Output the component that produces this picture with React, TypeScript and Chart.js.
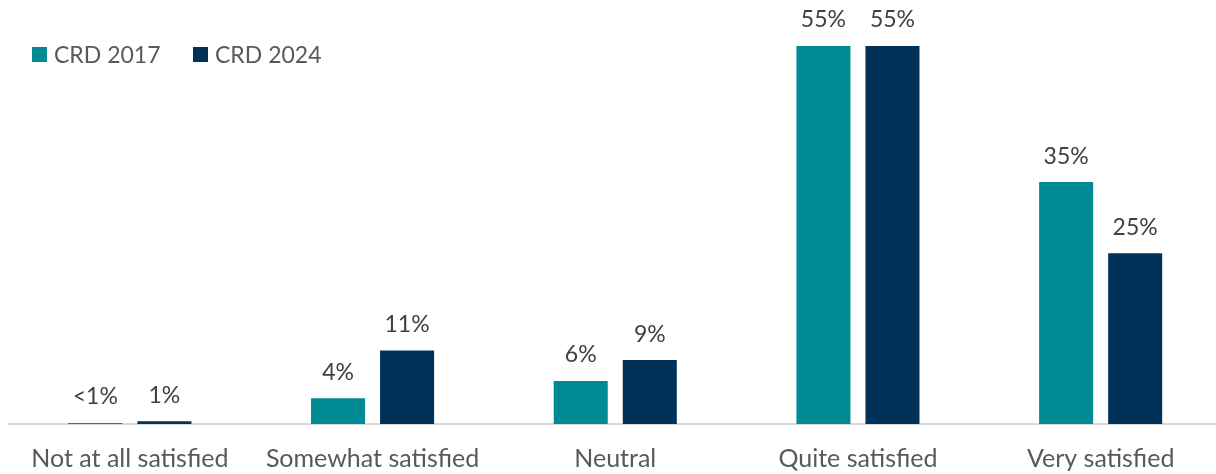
import React, { useEffect, useRef } from "react";
import { Chart, registerables } from "chart.js";

Chart.register(...registerables);

const categories = ["Not at all satisfied", "Somewhat satisfied", "Neutral", "Quite satisfied", "Very satisfied"];
const seriesNames = ["CRD 2017", "CRD 2024"];
const values2017 = [0.15, 3.75, 6.25, 55, 35.2];
const values2024 = [0.4, 10.7, 9.3, 55, 24.85];
const labels2017 = ["<1%", "4%", "6%", "55%", "35%"];
const labels2024 = ["1%", "11%", "9%", "55%", "25%"];
const colors = ["#008B94", "#003259"];

const FONT = "Lato, 'Open Sans', sans-serif";

const dataLabelPlugin = {
  id: "dataLabels",
  afterDatasetsDraw(chart: any) {
    const ctx = chart.ctx;
    const texts = [labels2017, labels2024];
    ctx.save();
    ctx.font = `23px ${FONT}`;
    ctx.fillStyle = "#404040";
    ctx.textAlign = "center";
    ctx.textBaseline = "middle";
    chart.data.datasets.forEach((_ds: any, di: number) => {
      const meta = chart.getDatasetMeta(di);
      meta.data.forEach((bar: any, i: number) => {
        ctx.fillText(texts[di][i], bar.x, bar.y - 26);
      });
    });
    ctx.restore();
  },
};

export default function App() {
  const ref = useRef<HTMLCanvasElement | null>(null);
  useEffect(() => {
    if (!ref.current) return;
    const chart = new Chart(ref.current, {
      type: "bar",
      data: {
        labels: categories,
        datasets: [
          { label: seriesNames[0], data: values2017, backgroundColor: colors[0], categoryPercentage: 0.569, barPercentage: 0.7826 },
          { label: seriesNames[1], data: values2024, backgroundColor: colors[1], categoryPercentage: 0.569, barPercentage: 0.7826 },
        ],
      },
      options: {
        responsive: false,
        animation: false,
        layout: { padding: { left: 8.5, right: 0, top: 0, bottom: 0 } },
        plugins: { legend: { display: false }, tooltip: { enabled: false } },
        scales: {
          x: {
            grid: { display: false, drawTicks: false },
            border: { display: true, color: "#D9D9D9", width: 2 },
            ticks: { color: "#595959", font: { family: FONT, size: 25 }, padding: 20, maxRotation: 0, autoSkip: false },
            afterFit: (s: any) => { s.height = 50; },
          },
          y: { display: false, min: 0, max: 61.7 },
        },
      },
      plugins: [dataLabelPlugin],
    });
    return () => chart.destroy();
  }, []);

  const legendItem = (name: string, color: string, left: number) => (
    <div style={{ position: "absolute", left, top: 40, display: "flex", alignItems: "center", fontFamily: FONT, fontSize: 23, color: "#595959" }}>
      <span style={{ display: "inline-block", width: 15, height: 15, background: color, marginRight: 7 }} />
      <span>{name}</span>
    </div>
  );

  return (
    <div style={{ position: "fixed", left: 0, top: 0, width: 1216, height: 474, overflow: "hidden", background: "#fff" }}>
      <canvas ref={ref} width={1222} height={474} style={{ position: "absolute", left: 0, top: 0, width: 1222, height: 474 }} />
      {legendItem(seriesNames[0], colors[0], 32)}
      {legendItem(seriesNames[1], colors[1], 193)}
    </div>
  );
}
